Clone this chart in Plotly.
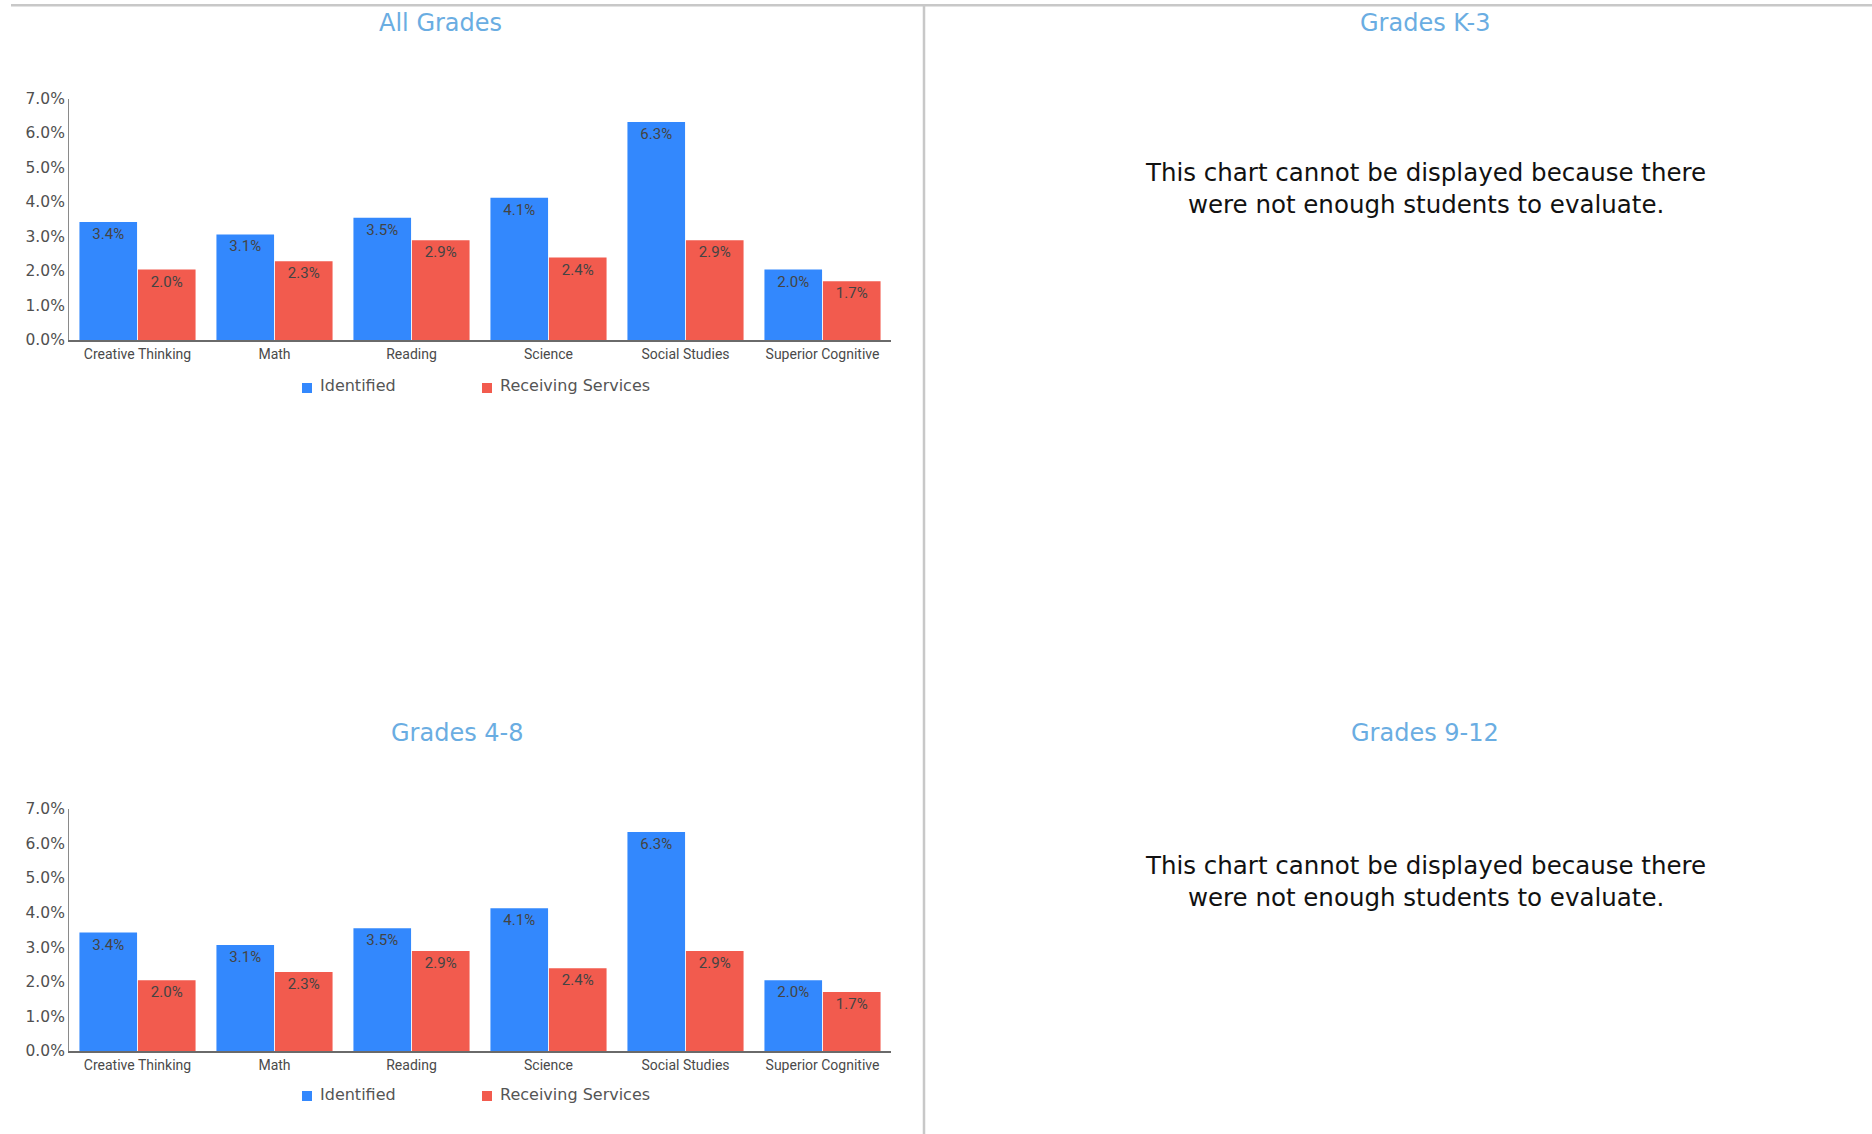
import plotly.graph_objects as go

W, H = 1872, 1134

categories = ["Creative Thinking", "Math", "Reading", "Science", "Social Studies", "Superior Cognitive"]
all_identified = [0.0342, 0.0306, 0.0354, 0.0412, 0.0632, 0.0204]
all_receiving = [0.0204, 0.0228, 0.0289, 0.0239, 0.0289, 0.0170]
g48_identified = [0.0342, 0.0306, 0.0354, 0.0412, 0.0632, 0.0204]
g48_receiving = [0.0204, 0.0228, 0.0289, 0.0239, 0.0289, 0.0170]
series_names = ["Identified", "Receiving Services"]
panel_titles = ["All Grades", "Grades K-3", "Grades 4-8", "Grades 9-12"]
no_data_msg = "This chart cannot be displayed because there<br>were not enough students to evaluate."

BLUE = "#3388fd"
RED = "#f25b4e"
COLORS = [BLUE, RED]
TITLE_C = "#6aade2"
SANS = "DejaVu Sans"
ROBO = "Roboto"

def px_x(p):
    return p / W

def px_y(p):
    return 1 - p / H

fig = go.Figure()

def add_pair(ident, recv, xa, ya):
    for name, vals, col in zip(series_names, (ident, recv), COLORS):
        fig.add_trace(go.Bar(
            x=categories, y=vals, name=name, xaxis=xa, yaxis=ya, showlegend=False,
            marker=dict(color=col, line=dict(width=0)),
            texttemplate="%{y:.1%}", textposition="inside", insidetextanchor="end",
            textfont=dict(family=ROBO, size=15, color="#444444"),
            constraintext="none", cliponaxis=False,
        ))

add_pair(all_identified, all_receiving, "x", "y")
add_pair(g48_identified, g48_receiving, "x2", "y2")

xdom = [px_x(69), px_x(891)]
axis_common_x = dict(
    domain=xdom, showgrid=False, zeroline=False, showline=True, automargin=False,
    linecolor="#6a6a6a", linewidth=1.5, ticks="",
    tickfont=dict(family=ROBO, size=14, color="#4a4a4a"),
    fixedrange=True,
)
axis_common_y = dict(
    range=[0, 0.07], dtick=0.01, tickformat=".1%", showgrid=False, zeroline=False,
    showline=True, automargin=False, linecolor="#8a8a8a", linewidth=1, ticks="",
    tickfont=dict(family=SANS, size=15.5, color="#505050"),
    fixedrange=True,
)

shapes = [
    dict(type="line", xref="paper", yref="paper", x0=px_x(11), x1=1, y0=px_y(5.3), y1=px_y(5.3),
         line=dict(color="#c8c8c8", width=2.5)),
    dict(type="line", xref="paper", yref="paper", x0=px_x(924), x1=px_x(924), y0=px_y(5.3), y1=0,
         line=dict(color="#c8c8c8", width=2.5)),
]

fig.update_layout(
    width=W, height=H,
    margin=dict(l=0, r=0, t=0, b=0, pad=0, autoexpand=False),
    paper_bgcolor="white", plot_bgcolor="white",
    barmode="group", bargap=0.146, bargroupgap=0.015,
    showlegend=False,
    xaxis=dict(axis_common_x, anchor="y"),
    yaxis=dict(axis_common_y, domain=[px_y(340), px_y(98.5)], anchor="x"),
    xaxis2=dict(axis_common_x, anchor="y2"),
    yaxis2=dict(axis_common_y, domain=[px_y(1051), px_y(808.5)], anchor="x2"),
)

# legend keys and labels under each chart
legend_rows = [388, 1096]
legend_items_x = [302, 482]
for ly in legend_rows:
    for name, col, lx in zip(series_names, COLORS, legend_items_x):
        shapes.append(dict(type="rect", xref="paper", yref="paper",
                           x0=px_x(lx), x1=px_x(lx + 10), y0=px_y(ly + 5), y1=px_y(ly - 5),
                           fillcolor=col, line=dict(width=0)))
        fig.add_annotation(text=name, x=px_x(lx + 16), y=px_y(ly - 2), xref="paper", yref="paper",
                           xanchor="left", yanchor="middle", showarrow=False,
                           font=dict(family=SANS, size=16, color="#555555"))

fig.update_layout(shapes=shapes)

title_pos = [(440, 23), (1425, 23), (457, 733), (1425, 733)]
for t, (tx, ty) in zip(panel_titles, title_pos):
    fig.add_annotation(text=t, x=px_x(tx), y=px_y(ty), xref="paper", yref="paper",
                       xanchor="center", yanchor="middle", showarrow=False,
                       font=dict(family=SANS, size=24, color=TITLE_C))

for my in (188.5, 881):
    fig.add_annotation(text=no_data_msg, x=px_x(1425), y=px_y(my), xref="paper", yref="paper",
                       xanchor="center", yanchor="middle", showarrow=False, align="center",
                       font=dict(family=SANS, size=24.5, color="#111111"))

fig.write_html(
    "out.html",
    config={"displayModeBar": False},
    post_script=(
        "document.documentElement.style.margin='0px';"
        "document.body.style.margin='0px';document.body.style.overflow='hidden';"
    ),
)
